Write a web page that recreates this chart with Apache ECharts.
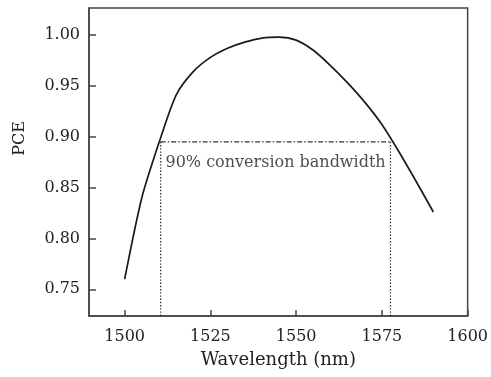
<!DOCTYPE html>
<html>
<head>
<meta charset="utf-8">
<script src="https://cdn.jsdelivr.net/npm/echarts@6/dist/echarts.min.js"></script>
<style>
  html, body { margin: 0; padding: 0; background: #fff; }
  #chart { width: 491px; height: 377px; }
</style>
</head>
<body>
<div id="chart"></div>
<script>
// PCE versus pump wavelength
const wavelengths = [1500, 1505, 1510, 1515, 1520, 1525, 1530, 1535, 1540, 1545,
                     1550, 1555, 1560, 1565, 1570, 1575, 1580, 1585, 1590];
const pce = [0.760, 0.840, 0.894, 0.941, 0.964, 0.978, 0.987, 0.993, 0.997, 0.998,
             0.995, 0.985, 0.970, 0.953, 0.934, 0.912, 0.885, 0.856, 0.826];

// 90% conversion bandwidth window
const bandEdges = [1510.5, 1577.5];
const bandLevel = 0.895;
const bandLabel = '90% conversion bandwidth';

const xTicks = [1500, 1525, 1550, 1575, 1600];
const yTicks = [0.75, 0.80, 0.85, 0.90, 0.95, 1.00];
const xRange = [1489.6, 1600];
const yRange = [0.7237, 1.0266];

const FONT = 'DejaVu Serif';
const INK = '#222';

const chart = echarts.init(document.getElementById('chart'), null, { renderer: 'canvas' });

chart.setOption({
  animation: false,
  backgroundColor: '#fff',
  grid: {
    left: 89, right: 22, top: 8, bottom: 61,
    show: true, borderColor: '#444', borderWidth: 1.5
  },
  xAxis: {
    type: 'value',
    min: xRange[0], max: xRange[1],
    name: 'Wavelength (nm)',
    nameLocation: 'middle',
    nameGap: 35,
    nameTextStyle: { fontFamily: FONT, fontSize: 18, color: INK },
    splitLine: { show: false },
    axisLine: { show: true, onZero: false, lineStyle: { color: '#444', width: 1.5 } },
    axisTick: { show: true, inside: true, length: 6, lineStyle: { color: '#444', width: 1.5 },
                customValues: xTicks },
    axisLabel: { fontFamily: FONT, fontSize: 16, color: INK, margin: 13,
                 customValues: xTicks, formatter: v => String(v) }
  },
  yAxis: {
    type: 'value',
    min: yRange[0], max: yRange[1],
    splitLine: { show: false },
    axisLine: { show: true, onZero: false, lineStyle: { color: '#444', width: 1.5 } },
    axisTick: { show: true, inside: true, length: 7, lineStyle: { color: '#444', width: 1.5 },
                customValues: yTicks },
    axisLabel: { fontFamily: FONT, fontSize: 16, color: INK, margin: 9,
                 customValues: yTicks, formatter: v => v.toFixed(2) }
  },
  graphic: [{
    type: 'text',
    left: 12, top: 121,
    rotation: Math.PI / 2,
    style: { text: 'PCE', font: '16px "DejaVu Serif"', fill: INK }
  }],
  series: [
    {
      type: 'line',
      data: wavelengths.map((w, i) => [w, pce[i]]),
      showSymbol: false,
      smooth: 0.25,
      lineStyle: { color: '#1a1a1a', width: 1.7 },
      z: 3
    },
    {
      // dash-dot level line across the band
      type: 'line',
      data: bandEdges.map(w => [w, bandLevel]),
      showSymbol: false,
      lineStyle: { color: '#333', width: 1.3, type: [5, 2, 1.5, 2] },
      z: 2
    },
    {
      type: 'line',
      data: [[bandEdges[0], bandLevel], [bandEdges[0], yRange[0]]],
      showSymbol: false,
      lineStyle: { color: '#333', width: 1.3, type: [1.4, 1.8] },
      z: 2
    },
    {
      type: 'line',
      data: [[bandEdges[1], bandLevel], [bandEdges[1], yRange[0]]],
      showSymbol: false,
      lineStyle: { color: '#333', width: 1.3, type: [1.4, 1.8] },
      z: 2
    },
    {
      // annotation text placed just under the level line
      type: 'scatter',
      data: [[(bandEdges[0] + bandEdges[1]) / 2, bandLevel]],
      symbolSize: 0,
      label: {
        show: true,
        formatter: bandLabel,
        position: 'bottom',
        distance: 13,
        fontFamily: FONT, fontSize: 16, color: INK
      },
      z: 4
    }
  ]
});
</script>
</body>
</html>
